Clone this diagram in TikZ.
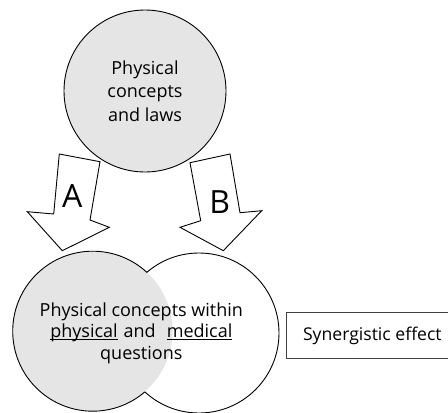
\documentclass[tikz,border=0pt]{standalone}
\usepackage{fontspec}
\setmainfont{Open Sans}
\definecolor{lightfill}{RGB}{229,229,229}
\newcommand{\myul}[1]{\setbox0=\hbox{#1}\rlap{\rule[-2.4pt]{\wd0}{0.8pt}}\box0}
\begin{document}
\begin{tikzpicture}[x=1pt,y=1pt,line width=0.9pt,
  blockarrow/.style={draw,fill=white,line join=miter},
  bubble/.style={circle,inner sep=0pt,outer sep=0pt},
  letter/.style={font=\fontsize{32}{32}\selectfont},
  bodytext/.style={align=center,font=\fontsize{18}{23.3}\selectfont}]
\useasboundingbox (0,0) rectangle (448,-413);
\clip (0,0) rectangle (448,-413);
% block arrows
\draw[blockarrow] (59.3,-154) -- (100,-161.7) -- (90,-220) -- (109.3,-227.3) -- (62.3,-250.7) -- (27.3,-211.7) -- (53.7,-214) -- cycle;
\draw[blockarrow] (190,-162.7) -- (230,-154) -- (240,-212.7) -- (261.7,-210.7) -- (223.3,-250.7) -- (180,-227.3) -- (200.7,-220.7) -- cycle;
\node[letter] (la) at (72.2,-195.8) {A};
\node[letter] (lb) at (219.7,-202) {B};
% top circle
\node[bubble,draw,fill=lightfill,minimum size=162pt,bodytext] (laws) at (145,-91) {Physical\\concepts\\and laws};
% bottom circles
\node[bubble,draw,fill=white,minimum size=160pt] (med) at (199,-333) {};
\node[bubble,fill=lightfill,minimum size=160pt] (phys) at (92.5,-331) {};
\draw (phys.47.2) arc[start angle=47.2,end angle=310.6,radius=80pt];
\node[bodytext,font=\fontsize{18}{21.4}\selectfont] (qtext) at (141.3,-333) {Physical concepts within\\\myul{physical}\hspace{6pt}and\hspace{11pt}\myul{medical}\\questions};
% box
\node[draw=black!75,line width=0.7pt,anchor=west,minimum height=45.6pt,inner xsep=17pt,font=\fontsize{17.6}{20}\selectfont] (syn) at (285.7,-335.5) {Synergistic effect};
\end{tikzpicture}
\end{document}
